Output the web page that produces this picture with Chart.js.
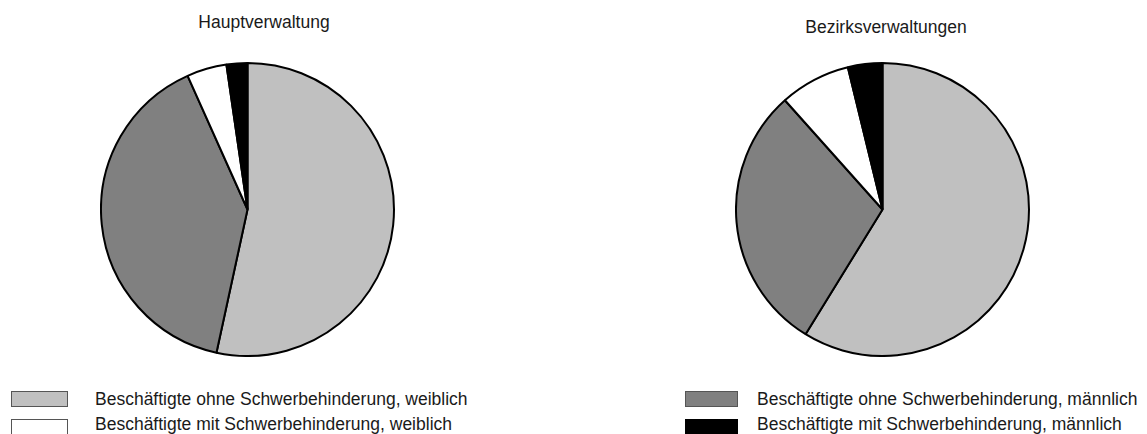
<!DOCTYPE html>
<html>
<head>
<meta charset="utf-8">
<script src="https://cdn.jsdelivr.net/npm/chart.js@4.4.1/dist/chart.umd.min.js"></script>
<style>
  body {
    margin: 0;
    width: 1147px;
    height: 434px;
    overflow: hidden;
    background: #fff;
    font-family: "Liberation Sans", Arial, sans-serif;
    color: #1a1a1a;
    position: relative;
  }
  .pie { position: absolute; width: 295px; height: 295px; }
  .title {
    position: absolute;
    font-size: 17.5px;
    line-height: 20px;
    white-space: nowrap;
    transform: translateX(-50%);
  }
  .legend-item {
    position: absolute;
    font-size: 17.5px;
    line-height: 20px;
    white-space: nowrap;
  }
  .swatch {
    position: absolute;
    height: 16px;
    box-sizing: border-box;
    border: 1px solid #555;
  }
</style>
</head>
<body>
<div class="title" id="title0" style="left:264px; top:12px;"></div>
<div class="title" id="title1" style="left:886px; top:17px;"></div>
<div class="pie" style="left:100px; top:62px;"><canvas id="pieHaupt"></canvas></div>
<div class="pie" style="left:735px; top:62px;"><canvas id="pieBezirk"></canvas></div>
<div id="legend"></div>

<script>
// Data (percent shares)
const categories = [
  "Beschäftigte ohne Schwerbehinderung, weiblich",
  "Beschäftigte ohne Schwerbehinderung, männlich",
  "Beschäftigte mit Schwerbehinderung, weiblich",
  "Beschäftigte mit Schwerbehinderung, männlich"
];
const chartTitles = ["Hauptverwaltung", "Bezirksverwaltungen"];
const hauptValues = [53.4, 39.9, 4.4, 2.3];
const bezirkValues = [58.8, 29.6, 7.8, 3.8];
const sliceColors = ["#c0c0c0", "#808080", "#ffffff", "#000000"];

// legend columns: which category goes where
const legendColumns = [
  { items: [0, 2], boxLeft: 11, boxWidth: 57, textLeft: 95 },
  { items: [1, 3], boxLeft: 685, boxWidth: 53, textLeft: 757 }
];
const legendRows = [{ boxTop: 391, textTop: 389 }, { boxTop: 419, textTop: 414 }];

function makePie(id, values) {
  const ctx = document.getElementById(id).getContext("2d");
  return new Chart(ctx, {
    type: "pie",
    data: {
      labels: categories,
      datasets: [
        {
          data: values,
          backgroundColor: sliceColors,
          borderColor: "#000",
          borderWidth: 2
        }
      ]
    },
    options: {
      responsive: true,
      maintainAspectRatio: false,
      animation: false,
      layout: { padding: 0 },
      plugins: {
        legend: { display: false },
        tooltip: { enabled: false },
        title: { display: false }
      }
    }
  });
}

document.getElementById("title0").innerText = chartTitles[0];
document.getElementById("title1").innerText = chartTitles[1];

makePie("pieHaupt", hauptValues);
makePie("pieBezirk", bezirkValues);

// HTML legend
const legend = document.getElementById("legend");
legendColumns.forEach((col) => {
  col.items.forEach((idx, row) => {
    const box = document.createElement("div");
    box.className = "swatch";
    box.style.left = col.boxLeft + "px";
    box.style.top = legendRows[row].boxTop + "px";
    box.style.width = col.boxWidth + "px";
    box.style.background = sliceColors[idx];
    if (sliceColors[idx] === "#000000") box.style.borderColor = "#000";
    legend.appendChild(box);

    const label = document.createElement("div");
    label.className = "legend-item";
    label.style.left = col.textLeft + "px";
    label.style.top = legendRows[row].textTop + "px";
    label.innerText = categories[idx];
    legend.appendChild(label);
  });
});
</script>
</body>
</html>
